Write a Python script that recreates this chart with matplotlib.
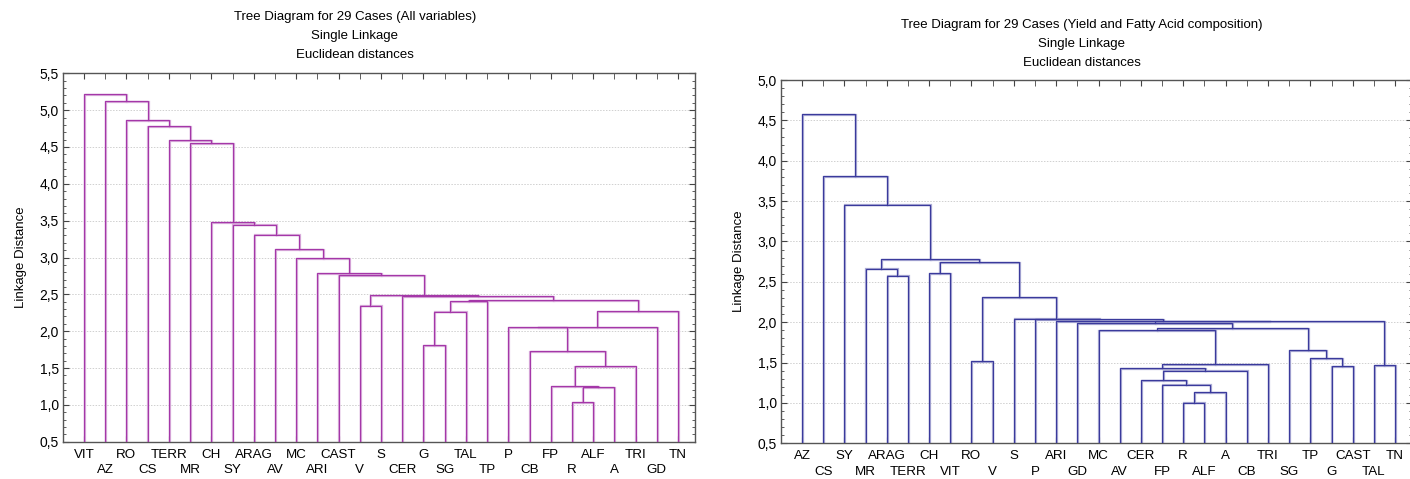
import matplotlib
matplotlib.use("Agg")
import matplotlib.pyplot as plt
import numpy as np
from matplotlib.ticker import MultipleLocator, FuncFormatter

plt.rcParams['font.family'] = ['Liberation Sans', 'DejaVu Sans']

# leaf order as drawn, and the linkage distance at which each pair of
# neighbouring leaves gets joined (Statistica style, n-1 values)
left_labels = ["VIT", "AZ", "RO", "CS", "TERR", "MR", "CH", "SY", "ARAG", "AV",
               "MC", "ARI", "CAST", "V", "S", "CER", "G", "SG", "TAL", "TP",
               "P", "CB", "FP", "R", "ALF", "A", "TRI", "GD", "TN"]
left_gaps = [5.215, 5.12, 4.866, 4.78, 4.59, 4.55, 3.477, 3.445, 3.31, 3.11,
             2.99, 2.785, 2.76, 2.345, 2.49, 2.473, 1.81, 2.264, 2.405, 2.42,
             2.052, 1.73, 1.25, 1.04, 1.24, 1.53, 2.056, 2.277]

right_labels = ["AZ", "CS", "SY", "MR", "ARAG", "TERR", "CH", "VIT", "RO", "V",
                "S", "P", "ARI", "GD", "MC", "AV", "CER", "FP", "R", "ALF",
                "A", "CB", "TRI", "SG", "TP", "G", "CAST", "TAL", "TN"]
right_gaps = [4.575, 3.81, 3.457, 2.665, 2.578, 2.78, 2.607, 2.745, 1.519, 2.313,
              2.044, 2.035, 2.015, 1.99, 1.90, 1.43, 1.278, 1.228, 1.005, 1.133,
              1.40, 1.482, 1.925, 1.655, 1.556, 1.452, 2.01, 1.465]

left_title = ["Tree Diagram for 29 Cases (All variables)", "Single Linkage",
              "Euclidean distances"]
right_title = ["Tree Diagram for 29 Cases (Yield and Fatty Acid composition)",
               "Single Linkage", "Euclidean distances"]

W, H = 1410, 479


def draw_tree(ax, gaps, color, halo):
    segs = []

    def build(lo, hi):
        if lo == hi:
            return float(lo), 0.0
        k = lo + int(np.argmax(gaps[lo:hi]))
        xl, hl = build(lo, k)
        xr, hr = build(k + 1, hi)
        h = gaps[k]
        segs.append(([xl, xl, xr, xr], [hl, h, h, hr]))
        return (xl + xr) / 2, h

    build(0, len(gaps))
    for xs, ys in segs:
        ax.plot(np.array(xs) + 0.04, np.array(ys) - 0.01, color=halo, lw=1.6,
                solid_joinstyle="miter", zorder=2)
    for xs, ys in segs:
        ax.plot(xs, ys, color=color, lw=0.9, solid_joinstyle="miter", zorder=3)


def setup_axes(ax, labels, top):
    n = len(labels)
    ax.set_xlim(-0.99, n - 0.2)
    ax.set_ylim(0.5, top)
    # even leaves on the first label row, odd leaves on the second
    ax.set_xticks(range(0, n, 2))
    ax.set_xticklabels(labels[0::2])
    ax.set_xticks(range(1, n, 2), minor=True)
    ax.set_xticklabels(labels[1::2], minor=True)
    ax.yaxis.set_major_locator(MultipleLocator(0.5))
    ax.yaxis.set_minor_locator(MultipleLocator(0.1))
    ax.yaxis.set_major_formatter(FuncFormatter(lambda v, p: f"{v:.1f}".replace(".", ",")))
    ax.tick_params(axis="both", which="both", direction="in", top=True, right=True,
                   color="#444444")
    ax.tick_params(axis="x", which="major", length=4, pad=5, labelsize=9.6)
    ax.tick_params(axis="x", which="minor", length=4, pad=16, labelsize=9.6)
    ax.tick_params(axis="y", which="major", length=4, pad=3, labelsize=10)
    ax.tick_params(axis="y", which="minor", length=2)
    ax.grid(axis="y", which="major", color="#d0d0d0", ls=(0, (1.5, 1.5)), lw=0.7)
    ax.set_axisbelow(True)
    for s in ax.spines.values():
        s.set_color("#555555")
        s.set_linewidth(1.0)
    ax.set_ylabel("Linkage Distance", fontsize=9.5, labelpad=9)


fig = plt.figure(figsize=(W / 100, H / 100), dpi=100)

ax1 = fig.add_axes([63 / W, 1 - 441.7 / H, (695 - 63) / W, (441.7 - 73.3) / H])
draw_tree(ax1, left_gaps, "#a437a8", "#dab0dc")
setup_axes(ax1, left_labels, 5.5)

ax2 = fig.add_axes([781 / W, 1 - 443.3 / H, (1412 - 781) / W, (443.3 - 80.0) / H])
draw_tree(ax2, right_gaps, "#3a3a9c", "#adadd6")
setup_axes(ax2, right_labels, 5.0)

for i, line in enumerate(left_title):
    fig.text(355 / W, 1 - (17 + 19 * i) / H, line, ha="center", va="center", fontsize=9.5)
for i, line in enumerate(right_title):
    fig.text(1082 / W, 1 - (25 + 19 * i) / H, line, ha="center", va="center", fontsize=9.5)

fig.savefig("out.png", dpi=100)
